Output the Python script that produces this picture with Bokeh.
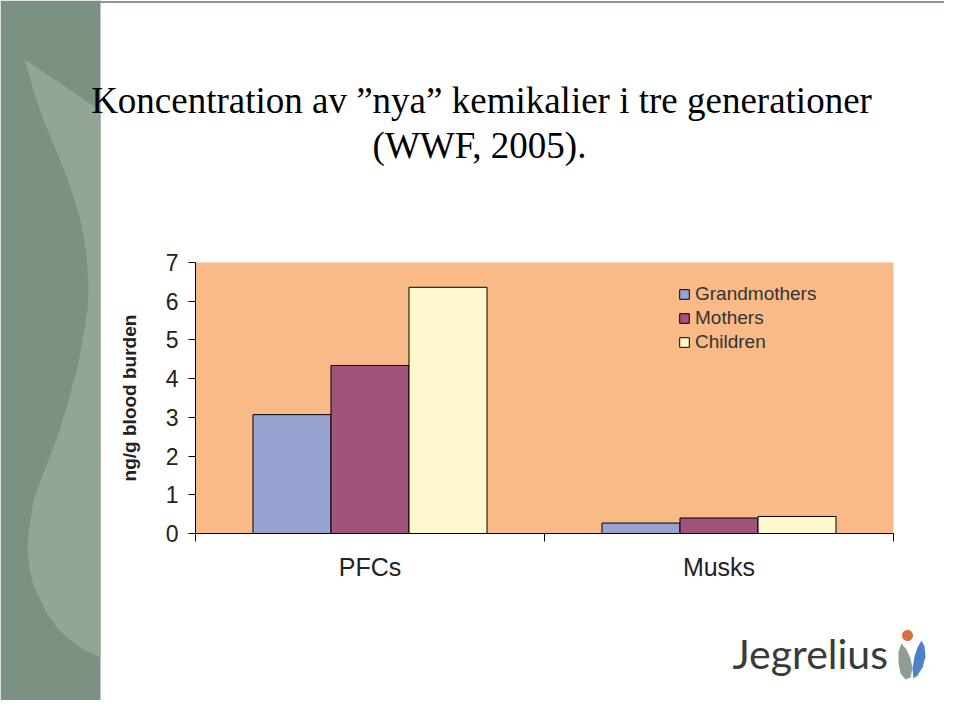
from bokeh.plotting import figure
from bokeh.models import (Range1d, LinearAxis, FixedTicker, Legend, LegendItem,
                          Label, ColumnDataSource)
from bokeh.embed import file_html
from bokeh.resources import INLINE
import numpy as np

# ---------------- data ----------------
categories = ["PFCs", "Musks"]
series_names = ["Grandmothers", "Mothers", "Children"]
grandmothers = [3.07, 0.27]
mothers = [4.34, 0.40]
children = [6.36, 0.44]
y_ticks = [0, 1, 2, 3, 4, 5, 6, 7]
y_label = "ng/g blood burden"
title_line1 = "Koncentration av \u201dnya\u201d kemikalier i tre generationer"
title_line2 = "(WWF, 2005)."
logo_text = "Jegrelius"

series_colors = ["#99A3D1", "#A0547B", "#FFF8CC"]
plot_bg = "#F9BA88"

# ---------------- canvas / layout ----------------
W, H = 944, 700
L, R, T, B = 195, 893, 262, 533          # chart plot area in canvas pixels
n = len(categories)
ymax = y_ticks[-1]

p = figure(width=W, height=H, x_range=Range1d(0, W), y_range=Range1d(H, 0),
           output_backend="svg", toolbar_location=None,
           x_axis_type=None, y_axis_type=None,
           min_border=0, min_border_left=0, min_border_right=0,
           min_border_top=0, min_border_bottom=0,
           background_fill_color="white", border_fill_color="white",
           outline_line_color=None)

sx = n / (R - L)
sy = ymax / (B - T)
p.extra_x_ranges = {"cx": Range1d(-L * sx, (W - L) * sx)}
p.extra_y_ranges = {"cy": Range1d(-(H - B) * sy, B * sy)}

# ---------------- slide decoration ----------------
p.patch([0, W, W, 0], [0.5, 0.5, 2.5, 2.5], fill_color="#8A9C8E", line_color=None)
p.patch([0, 100, 100, 0], [0, 0, H, H], fill_color="#7B9181", line_color=None)
wave_x = [24, 50, 75, 100, 100, 85, 70, 57, 47, 40, 33, 29, 27, 28, 33, 45, 58, 68, 77,
          83, 87, 88, 86, 80, 70, 57, 43, 33]
wave_y = [59, 76, 93, 110, 657, 650, 640, 628, 614, 600, 585, 567, 550, 533, 500, 467, 433,
          400, 367, 333, 310, 287, 253, 220, 187, 153, 120, 90]
p.patch(wave_x, wave_y, fill_color="#91A695", line_color=None)

# ---------------- chart ----------------
p.quad(left=[0], right=[n], bottom=[0], top=[ymax], x_range_name="cx", y_range_name="cy",
       fill_color=plot_bg, line_color=None)

centers = [i + 0.5 for i in range(n)]
bar_w = 0.2235
renderers = []
for k, (vals, color) in enumerate(zip([grandmothers, mothers, children], series_colors)):
    src = ColumnDataSource(dict(x=[c + (k - 1) * bar_w for c in centers], top=vals))
    r = p.vbar(x="x", top="top", width=bar_w, bottom=0, source=src,
               x_range_name="cx", y_range_name="cy",
               fill_color=color, line_color="black", line_width=1)
    renderers.append(r)

xaxis = LinearAxis(x_range_name="cx", y_range_name="cy", fixed_location=0, bounds=(0, n),
                   ticker=FixedTicker(ticks=centers, minor_ticks=list(range(n + 1))),
                   major_label_overrides={c: name for c, name in zip(centers, categories)},
                   major_tick_line_color=None, major_tick_out=0, major_tick_in=0,
                   minor_tick_line_color="black", minor_tick_out=8, minor_tick_in=0,
                   axis_line_color="black", axis_line_width=1,
                   major_label_text_font="Liberation Sans", major_label_text_font_size="25px",
                   major_label_text_color="#222222", major_label_standoff=11)
p.add_layout(xaxis, "below")

yaxis = LinearAxis(x_range_name="cx", y_range_name="cy", fixed_location=0, bounds=(0, ymax),
                   ticker=FixedTicker(ticks=y_ticks, minor_ticks=[]),
                   major_tick_out=7, major_tick_in=0, major_tick_line_color="black",
                   minor_tick_line_color=None, axis_line_color="black",
                   major_label_text_font="Liberation Sans", major_label_text_font_size="23px",
                   major_label_text_color="#222222", major_label_standoff=10,
                   axis_label=y_label, axis_label_text_font="Liberation Sans",
                   axis_label_text_font_style="bold", axis_label_text_font_size="19px",
                   axis_label_text_color="#222222", axis_label_standoff=23)
p.add_layout(yaxis, "left")

legend = Legend(items=[LegendItem(label=nm, renderers=[r]) for nm, r in zip(series_names, renderers)],
                location=(678, H - 353), padding=0, margin=0, spacing=2,
                glyph_width=12, glyph_height=12, label_height=20, label_standoff=5,
                label_text_font="Liberation Sans", label_text_font_size="19px",
                label_text_color="#333333",
                border_line_color=None, background_fill_alpha=0)
p.add_layout(legend)

# ---------------- title ----------------
p.add_layout(Label(x=481, y=100, text=title_line1,
                   text_align="center", text_baseline="alphabetic",
                   text_font="Liberation Serif", text_font_size="37px", text_color="black"))
p.add_layout(Label(x=479, y=145, text=title_line2,
                   text_align="center", text_baseline="alphabetic",
                   text_font="Liberation Serif", text_font_size="37px", text_color="black"))

# ---------------- logo ----------------
p.add_layout(Label(x=732, y=653, text=logo_text,
                   text_align="left", text_baseline="alphabetic",
                   text_font="Lato", text_font_size="41px", text_color="#3A3A3A"))
t = np.linspace(0, 2 * np.pi, 24)
p.patch(907 + 5.5 * np.cos(t), 635 + 5.5 * np.sin(t), fill_color="#D9703A", line_color=None)
p.patch([901, 906, 910, 912, 910, 905, 900, 898, 898],
        [643, 649, 658, 668, 677, 679, 673, 662, 651], fill_color="#8D9F93", line_color=None)
p.patch([921, 924, 925, 922, 917, 913, 912, 914, 917],
        [640, 646, 656, 667, 675, 678, 668, 656, 647], fill_color="#4B82C8", line_color=None)

open("out.html", "w").write(file_html(p, INLINE))
